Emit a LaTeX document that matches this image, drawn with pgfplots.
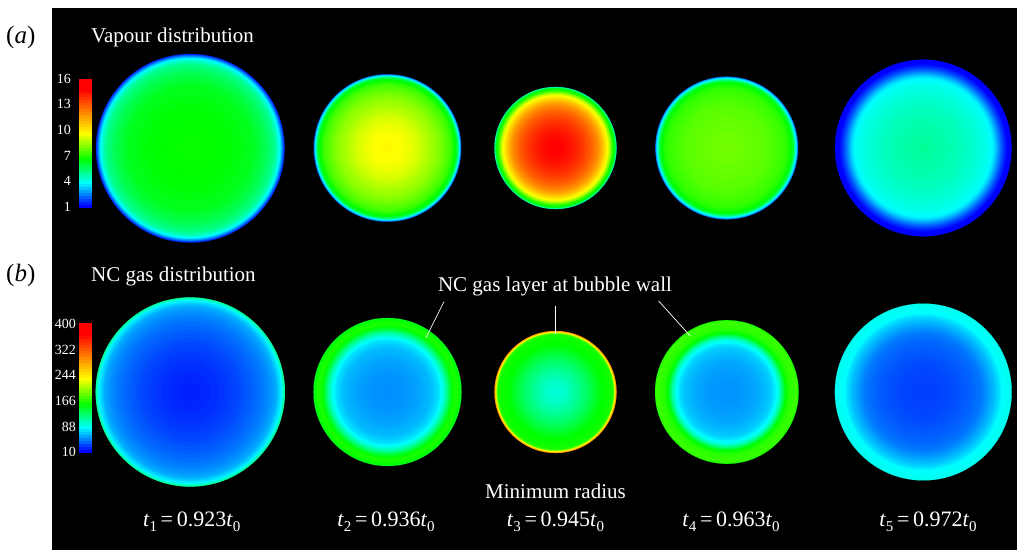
\documentclass[border=0pt]{standalone}
\usepackage{pgfplots}
\pgfplotsset{compat=1.18}
\usepackage{fontspec}
\setmainfont{Liberation Serif}

% rainbow map of the two colour bars
\pgfplotsset{
    colormap={bub}{rgb255(0pt)=(0,0,255) rgb255(200pt)=(0,255,255) rgb255(400pt)=(0,255,0) rgb255(620pt)=(255,255,0) rgb255(1000pt)=(255,0,0)},
    bubble/.style={
        scatter, only marks, mark=*,
        scatter/use mapped color={draw=mapped color, fill=mapped color},
        mark options={line width=0.1pt},
        point meta=\thisrow{v},
        visualization depends on={\thisrow{r} \as \ringr},
        scatter/@pre marker code/.append style={/tikz/mark size=\ringr},
    },
    cbar/.style={
        scatter, only marks, mark=square*, mark size=6,
        scatter/use mapped color={draw=mapped color, fill=mapped color},
        mark options={line width=0.1pt},
        point meta=\thisrow{v},
    },
    leader/.style={white, line width=0.7pt, no markers, on layer=axis foreground},
}
% centre x, centre y, rows of ring radius and colour position
\newcommand{\bubble}[3]{\addplot[bubble] table[x expr=#1, y expr=#2, row sep=\\] {r v\\ #3};}
\newcommand{\tlab}[2]{\textit{t}\raisebox{-0.45ex}{\fontsize{15}{15}\selectfont #1}\,=\,#2\textit{t}\raisebox{-0.45ex}{\fontsize{15}{15}\selectfont 0}}

\begin{document}
\begin{tikzpicture}
\begin{axis}[
    x=1pt, y=1pt, y dir=reverse,
    xmin=0, xmax=1017, ymin=0, ymax=550,
    axis lines=none,
    set layers,
    colormap name=bub,
    point meta min=0, point meta max=1,
]
\fill[white] (axis cs:0,0) rectangle (axis cs:1017,550);
\fill[black] (axis cs:52,8) rectangle (axis cs:1017,550);

% colour bars
\addplot[cbar] table[row sep=\\] {x y v\\
85 201 .000\\85 198 .026\\85 195 .051\\85 192 .077\\85 189 .103\\85 186 .128\\85 183 .154\\85 180 .179\\
85 177 .205\\85 174 .231\\85 171 .256\\85 168 .282\\85 165 .308\\85 162 .333\\85 159 .359\\85 156 .385\\
85 153 .410\\85 150 .436\\85 147 .462\\85 144 .487\\85 141 .513\\85 138 .538\\85 135 .564\\85 132 .590\\
85 129 .615\\85 126 .641\\85 123 .667\\85 120 .692\\85 117 .718\\85 114 .744\\85 111 .769\\85 108 .795\\
85 105 .821\\85 102 .846\\85 99 .872\\85 96 .897\\85 93 .923\\85 90 .949\\85 87 .974\\85 85 1.0\\
};
\addplot[cbar] table[row sep=\\] {x y v\\
85 446 .000\\85 443 .026\\85 440 .051\\85 437 .077\\85 434 .103\\85 431 .128\\85 428 .154\\85 425 .179\\
85 422 .205\\85 419 .231\\85 416 .256\\85 413 .282\\85 410 .308\\85 407 .333\\85 404 .359\\85 401 .385\\
85 398 .410\\85 395 .436\\85 392 .462\\85 389 .487\\85 386 .513\\85 383 .538\\85 380 .564\\85 377 .590\\
85 374 .615\\85 371 .641\\85 368 .667\\85 365 .692\\85 362 .718\\85 359 .744\\85 356 .769\\85 353 .795\\
85 350 .821\\85 347 .846\\85 344 .872\\85 341 .897\\85 338 .923\\85 335 .949\\85 332 .974\\85 329 1.0\\
};

% vapour, t1..t5
\bubble{190.3}{148.3}{94.3 .03\\93.5 .06\\92.7 .09\\92 .12\\91.2 .15\\90.5 .18\\89.7 .20\\89 .22\\88 .24\\87 .255\\86 .27\\85 .28\\84 .29\\83 .30\\81 .31\\79 .32\\77 .33\\75 .34\\72 .35\\69 .36\\66 .37\\62 .38\\58 .38\\54 .385\\50 .39\\44 .395\\36 .40\\24 .403\\12 .405\\}
\bubble{387.5}{148}{73.7 .08\\73.2 .12\\72.7 .16\\72.2 .20\\71.7 .24\\71.2 .27\\70.7 .30\\70.2 .33\\69.7 .355\\69.2 .375\\68.5 .39\\67.5 .405\\66.5 .42\\65.5 .435\\64 .45\\62.5 .46\\61 .47\\59 .48\\57 .49\\55 .50\\53 .51\\51 .52\\48 .53\\45 .54\\42 .55\\39 .56\\36 .57\\33 .58\\30 .59\\26 .60\\22 .61\\17 .615\\12 .62\\8 .625\\4 .63\\}
\bubble{555.5}{148}{61 .22\\60.6 .28\\60.2 .33\\59.8 .36\\59.3 .385\\58.7 .40\\58.2 .415\\57.6 .43\\57 .445\\56.5 .465\\56 .485\\55.5 .51\\55 .53\\54.5 .55\\54 .57\\53.5 .59\\53 .60\\52.5 .61\\52 .62\\51.5 .635\\51 .65\\50 .67\\49 .69\\48 .71\\47 .73\\46 .745\\45 .76\\44 .775\\43 .79\\42 .80\\41 .81\\40 .82\\39 .83\\38 .84\\37 .85\\36 .86\\35 .87\\33.5 .88\\32 .89\\30.5 .90\\29 .91\\27.5 .92\\26 .93\\24 .94\\22 .95\\20 .96\\17 .97\\14 .98\\11 .99\\7 1.0\\}
\bubble{726.7}{148}{71.3 .08\\70.9 .11\\70.5 .14\\70.1 .17\\69.7 .19\\69.2 .22\\68.7 .25\\68.2 .28\\67.7 .31\\67.2 .335\\66.7 .355\\66.2 .375\\65.5 .39\\64.5 .405\\63.5 .415\\62.5 .425\\61 .435\\59 .445\\57 .45\\54 .455\\51 .46\\47 .47\\43 .475\\38 .48\\32 .485\\25 .49\\17 .495\\8 .50\\}
\bubble{923.3}{148}{88.3 .00\\84 .005\\83 .015\\82 .03\\81 .04\\80 .05\\79 .065\\78 .08\\77 .095\\76 .11\\75 .125\\74 .14\\73 .155\\72 .17\\71 .18\\70 .19\\69 .198\\68 .205\\66 .21\\64 .215\\62 .22\\59 .225\\56 .23\\53 .235\\50 .24\\46 .245\\42 .25\\37 .255\\32 .26\\26 .265\\20 .27\\12 .275\\5 .28\\}

% NC gas, t1..t5
\bubble{190.3}{392}{94.6 .26\\94.2 .28\\93.7 .27\\93.2 .25\\92.7 .23\\92.2 .21\\91.7 .195\\91 .185\\90 .175\\89 .165\\88 .155\\87 .145\\86 .135\\85 .13\\83 .122\\81 .115\\79 .108\\76 .10\\73 .093\\70 .087\\66 .08\\62 .074\\58 .068\\54 .062\\50 .056\\45 .05\\40 .045\\34 .04\\28 .035\\20 .03\\10 .025\\}
\bubble{387.5}{392}{74 .37\\73.3 .39\\72.5 .405\\71 .415\\69 .42\\67 .415\\66 .405\\65 .39\\64 .375\\63 .355\\62 .335\\61 .31\\60 .29\\59 .27\\58 .255\\57 .24\\56 .225\\55 .21\\54 .20\\53 .19\\52 .182\\51 .175\\50 .17\\48 .16\\46 .152\\44 .146\\42 .143\\40 .14\\37 .135\\34 .13\\31 .127\\28 .124\\24 .12\\20 .117\\15 .115\\8 .113\\}
\bubble{555.5}{392}{61 .80\\60.7 .76\\60.3 .72\\59.9 .67\\59.5 .62\\59.1 .57\\58.7 .52\\58.3 .47\\57.9 .44\\57.4 .425\\56.5 .415\\55 .41\\52 .405\\49 .40\\46 .39\\44 .38\\42 .37\\40 .36\\38 .35\\36 .34\\34 .33\\32 .32\\30 .31\\27 .30\\24 .285\\21 .275\\18 .265\\15 .255\\12 .245\\9 .24\\5 .23\\}
\bubble{726.8}{392}{71.8 .42\\71 .44\\70 .45\\68 .445\\66 .44\\64 .435\\62 .425\\61 .415\\60 .405\\59 .39\\58 .37\\57 .34\\56 .31\\55 .285\\54 .26\\53 .24\\52 .22\\51 .21\\50 .20\\49 .19\\48 .18\\46.5 .17\\45 .16\\43 .155\\41 .15\\38 .143\\35 .137\\32 .132\\28 .128\\24 .124\\19 .12\\13 .118\\6 .116\\}
\bubble{923.3}{392}{88.4 .21\\84 .205\\80 .20\\78 .19\\77 .183\\76 .176\\75 .17\\74 .164\\73 .158\\72 .152\\71 .147\\70 .142\\68 .132\\66 .122\\64 .113\\62 .105\\60 .098\\58 .092\\56 .088\\53 .083\\50 .079\\47 .075\\44 .072\\41 .069\\38 .066\\35 .063\\32 .06\\28 .057\\24 .054\\18 .052\\10 .05\\}

% leader lines, on top of the bubbles
\addplot[leader] coordinates {(444,301.7) (426,337.7)};
\addplot[leader] coordinates {(555.7,305.7) (555.7,334)};
\addplot[leader] coordinates {(658.7,301) (690,335.7)};

% panel letters and titles
\node[anchor=west, inner sep=0pt, font=\fontsize{25}{25}\selectfont] at (axis cs:6,37) {(\textit{a})};
\node[anchor=west, inner sep=0pt, font=\fontsize{25}{25}\selectfont] at (axis cs:6,275) {(\textit{b})};
\begin{scope}[every node/.style={text=white, inner sep=0pt, font=\fontsize{21}{21}\selectfont}]
\node[anchor=west] at (axis cs:91,37) {Vapour distribution};
\node[anchor=west] at (axis cs:91,276) {NC gas distribution};
\node at (axis cs:555,286) {NC gas layer at bubble wall};
\node at (axis cs:555.5,491) {Minimum radius};
\node at (axis cs:191.7,522) {\fontsize{22}{22}\selectfont\tlab{1}{0.923}};
\node at (axis cs:386,522) {\fontsize{22}{22}\selectfont\tlab{2}{0.936}};
\node at (axis cs:555.5,522) {\fontsize{22}{22}\selectfont\tlab{3}{0.945}};
\node at (axis cs:731,522) {\fontsize{22}{22}\selectfont\tlab{4}{0.963}};
\node at (axis cs:928,522) {\fontsize{22}{22}\selectfont\tlab{5}{0.972}};
\end{scope}
\begin{scope}[every node/.style={text=white, inner sep=0pt, anchor=east, font=\fontsize{14}{14}\selectfont}]
\node at (axis cs:71,79) {16};
\node at (axis cs:71,104) {13};
\node at (axis cs:71,130) {10};
\node at (axis cs:71,156) {7};
\node at (axis cs:71,181) {4};
\node at (axis cs:71,207) {1};
\node at (axis cs:76,324) {400};
\node at (axis cs:76,350) {322};
\node at (axis cs:76,375) {244};
\node at (axis cs:76,401) {166};
\node at (axis cs:76,427) {88};
\node at (axis cs:76,452) {10};
\end{scope}
\end{axis}
\end{tikzpicture}
\end{document}
